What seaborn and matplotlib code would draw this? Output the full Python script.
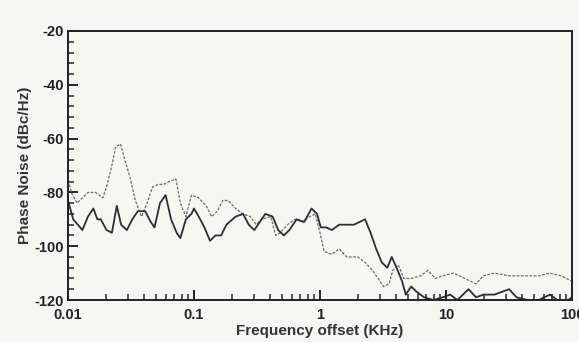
import numpy as np
import pandas as pd
import matplotlib
matplotlib.use("Agg")
import matplotlib.pyplot as plt
from matplotlib.ticker import LogLocator, FixedLocator, MultipleLocator, NullFormatter
import seaborn as sns

# ---- data (frequency offset in KHz, phase noise in dBc/Hz) ----
solid_freq = [0.01, 0.011, 0.013, 0.0144, 0.0159, 0.0171, 0.0182, 0.0202, 0.0223, 0.0244,
              0.0264, 0.0293, 0.0324, 0.0358, 0.041, 0.0454, 0.0486, 0.0537, 0.0595, 0.0658,
              0.0728, 0.0779, 0.0862, 0.0954, 0.1, 0.109, 0.121, 0.134, 0.148, 0.164,
              0.181, 0.214, 0.245, 0.272, 0.301, 0.333, 0.368, 0.421, 0.466, 0.516,
              0.571, 0.653, 0.748, 0.857, 0.948, 1.014, 1.12, 1.24, 1.42, 1.63,
              1.86, 2.06, 2.28, 2.52, 2.79, 3.09, 3.42, 3.71, 4.05, 4.48,
              4.79, 5.30, 5.86, 6.71, 7.94, 9.41, 10.8, 12.3, 15.1, 17.3,
              19.8, 24.2, 31.7, 36.3, 44.5, 54.5, 66.7, 76.4, 93.5, 100]
solid_db = [-83, -90, -94, -89, -86, -90, -90, -94, -95, -85,
            -92, -94, -90, -87, -87, -91, -93, -84, -81, -90,
            -95, -97, -90, -88, -86, -89, -93, -98, -96, -96,
            -92, -89, -88, -92, -94, -91, -88, -89, -94, -96,
            -94, -90, -91, -86, -88, -93, -93, -94, -92, -92,
            -92, -91, -90, -95, -101, -106, -108, -104, -108, -113,
            -118, -115, -117, -119, -120, -119, -118, -120, -116, -119,
            -118, -118, -116, -119, -120, -120, -118, -120, -120, -119]

dashed_freq = [0.01, 0.0106, 0.0118, 0.013, 0.0144, 0.0165, 0.0189, 0.0202, 0.0223, 0.0239,
               0.0261, 0.0283, 0.0313, 0.0342, 0.0383, 0.0424, 0.0469, 0.052, 0.0575, 0.0636,
               0.0718, 0.0779, 0.0862, 0.0954, 0.109, 0.125, 0.138, 0.153, 0.169, 0.187,
               0.214, 0.245, 0.281, 0.311, 0.344, 0.407, 0.445, 0.482, 0.552, 0.632,
               0.723, 0.828, 0.916, 1.0, 1.08, 1.24, 1.42, 1.63, 1.99, 2.28,
               2.61, 2.99, 3.19, 3.53, 3.78, 4.19, 4.63, 5.30, 6.28, 7.18,
               8.22, 9.41, 11.5, 14.1, 17.3, 19.8, 24.2, 31.7, 41.6, 54.5,
               66.7, 81.7, 100]
dashed_db = [-74, -80, -84, -82, -80, -80, -82, -78, -70, -63,
             -62, -68, -75, -83, -89, -84, -78, -77, -77, -76,
             -75, -84, -89, -81, -82, -85, -89, -87, -83, -83,
             -86, -88, -89, -92, -90, -89, -96, -95, -92, -90,
             -91, -89, -88, -95, -102, -103, -101, -104, -104, -106,
             -109, -113, -115, -114, -109, -107, -112, -112, -111, -109,
             -112, -111, -110, -112, -114, -111, -110, -111, -111, -111,
             -110, -111, -113]

x_ticks = [0.01, 0.1, 1, 10, 100]
x_tick_labels = ["0.01", "0.1", "1", "10", "100"]

df = pd.concat([
    pd.DataFrame({"freq": solid_freq, "noise": solid_db, "trace": "solid"}),
    pd.DataFrame({"freq": dashed_freq, "noise": dashed_db, "trace": "dashed"}),
], ignore_index=True)

sns.set_theme(style="ticks")
plt.rcParams["font.family"] = ["Liberation Sans", "DejaVu Sans"]
plt.rcParams["font.weight"] = "bold"
plt.rcParams["axes.unicode_minus"] = False

bg = "#f6f6f4"
fig = plt.figure(figsize=(5.79, 3.42), dpi=100, facecolor=bg)
ax = fig.add_axes([68 / 579, 42 / 342, 504 / 579, 269 / 342])
ax.set_facecolor(bg)

sns.lineplot(data=df[df.trace == "dashed"], x="freq", y="noise", ax=ax,
             color="#6a6a6a", linewidth=0.9, linestyle=(0, (2.2, 1.2)),
             estimator=None, sort=False)
sns.lineplot(data=df[df.trace == "solid"], x="freq", y="noise", ax=ax,
             color="#2e2e2e", linewidth=1.3, estimator=None, sort=False)

ax.set_xscale("log")
ax.set_xlim(0.01, 100)
ax.set_ylim(-120, -20)
ax.xaxis.set_major_locator(FixedLocator(x_ticks))
ax.set_xticklabels(x_tick_labels)
ax.xaxis.set_minor_locator(LogLocator(base=10, subs=np.arange(2, 10)))
ax.xaxis.set_minor_formatter(NullFormatter())
ax.yaxis.set_major_locator(MultipleLocator(20))
ax.yaxis.set_minor_locator(MultipleLocator(4))

ax.tick_params(axis="both", which="major", direction="in", length=7, width=1.4,
               color="#222222", labelsize=10.5, labelcolor="#222222")
ax.tick_params(axis="x", which="major", pad=6)
ax.tick_params(axis="y", which="major", pad=3)
ax.tick_params(axis="both", which="minor", direction="in", length=4, width=1.1,
               color="#222222")
for lab in ax.get_xticklabels() + ax.get_yticklabels():
    lab.set_fontweight("bold")

for sp in ax.spines.values():
    sp.set_color("#222222")
    sp.set_linewidth(1.4)

ax.set_xlabel("Frequency offset (KHz)", fontsize=11, fontweight="bold", color="#333333")
ax.set_ylabel("Phase Noise (dBc/Hz)", fontsize=11, fontweight="bold", color="#333333")
ax.xaxis.set_label_coords(0.5, -0.115, transform=ax.transAxes)
ax.xaxis.label.set_va("center")
ax.yaxis.set_label_coords(-0.085, 0.5, transform=ax.transAxes)
ax.yaxis.label.set_va("center")
legend = ax.get_legend()
if legend is not None:
    legend.remove()

fig.savefig("out.png", dpi=100, facecolor=bg)
